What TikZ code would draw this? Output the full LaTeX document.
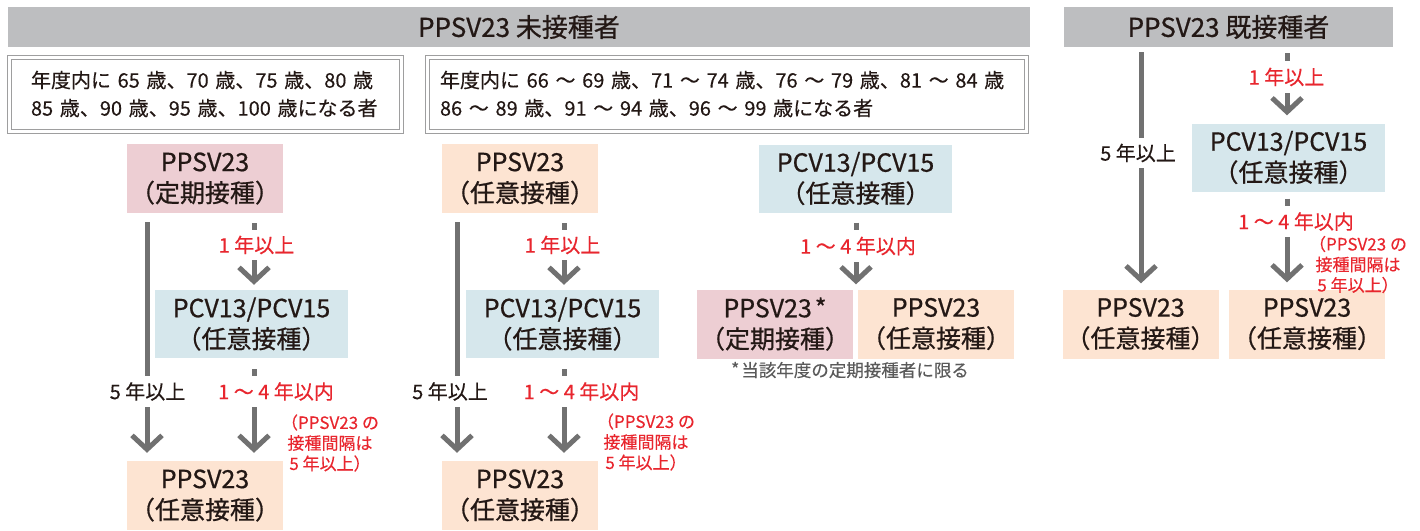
\documentclass[tikz,border=0pt]{standalone}
\usepackage{fontspec}
\setmainfont{Noto Sans CJK JP}
\newfontfamily\boxfont{Noto Sans CJK JP}[FakeBold=0.7]
\newfontfamily\labfont{Noto Sans CJK JP}[FakeBold=0.3]
\usetikzlibrary{arrows.meta,calc}
\definecolor{hdr}{HTML}{BDBEC0}
\definecolor{pinkb}{HTML}{EDCED3}
\definecolor{peach}{HTML}{FDE4D2}
\definecolor{blueb}{HTML}{D6E7EC}
\definecolor{lineg}{HTML}{717171}
\definecolor{redt}{HTML}{E8262E}
\definecolor{txt}{HTML}{231815}
\definecolor{frameg}{HTML}{9E9E9F}
\definecolor{footg}{HTML}{5A5A5A}
\begin{document}
\begin{tikzpicture}[x=1pt,y=-1pt,
  font=\boxfont\fontsize{25}{31}\selectfont, text=txt,
  hdrbox/.style={fill=hdr, minimum height=40pt, inner sep=0pt, font=\boxfont\fontsize{26}{30}\selectfont},
  vbox/.style={minimum width=156pt, minimum height=69pt, inner sep=0pt, align=center},
  pinkbox/.style={vbox, fill=pinkb},
  peachbox/.style={vbox, fill=peach},
  bluebox/.style={vbox, fill=blueb, minimum width=193pt, minimum height=68pt},
  agebox/.style={draw=frameg, line width=1pt, double=white, double distance=3pt,
    minimum height=74pt, inner ysep=0pt, align=left, font=\labfont\fontsize{20}{28}\selectfont},
  conn/.style={draw=lineg, line width=5pt},
  arr/.style={conn, -{Straight Barb[length=14pt, width=30pt]}},
  lab/.style={fill=white, inner xsep=2pt, inner ysep=0pt, font=\labfont\fontsize{20}{24}\selectfont},
  redlab/.style={lab, text=redt},
  graylab/.style={lab, text=txt},
  note/.style={text=redt, align=center, inner sep=0pt, font=\labfont\fontsize{17}{20.5}\selectfont},
]
\useasboundingbox (0,0) rectangle (1420,530);

% headers
\node[hdrbox, minimum width=1022pt] (h1) at (519,27) {PPSV23 未接種者};
\node[hdrbox, minimum width=329pt] (h2) at (1228.5,27) {PPSV23 既接種者};

% age boxes
\node[agebox, text width=348pt, inner xsep=22pt] (g1) at (205,94)
  {\mbox{年度内に 65 歳、70 歳、75 歳、80 歳}\\\mbox{85 歳、90 歳、95 歳、100 歳になる者}};
\node[agebox, text width=573pt, inner xsep=13pt] (g2) at (726.5,94)
  {\mbox{年度内に 66 ～ 69 歳、71 ～ 74 歳、76 ～ 79 歳、81 ～ 84 歳}\\\mbox{86 ～ 89 歳、91 ～ 94 歳、96 ～ 99 歳になる者}};

% column 1
\node[pinkbox] (a1) at (205,178.5) {PPSV23\\（定期接種）};
\node[bluebox] (b1) at (251.5,324) {PCV13/PCV15\\（任意接種）};
\node[peachbox] (c1) at (205,495.5) {PPSV23\\（任意接種）};
\coordinate (x1l) at (147,0);
\coordinate (x1r) at (254,0);
\draw[arr] ($(a1.south -| x1l)+(0,9)$) -- ($(c1.north -| x1l)+(0,-8)$);
\draw[arr] ($(a1.south -| x1r)+(0,10)$) -- ($(b1.north -| x1r)+(0,-5)$);
\draw[arr] ($(b1.south -| x1r)+(0,11)$) -- ($(c1.north -| x1r)+(0,-8)$);

% column 2
\node[peachbox] (a2) at (520,178.5) {PPSV23\\（任意接種）};
\node[bluebox] (b2) at (562.5,324) {PCV13/PCV15\\（任意接種）};
\node[peachbox] (c2) at (520,495.5) {PPSV23\\（任意接種）};
\coordinate (x2l) at (457,0);
\coordinate (x2r) at (564,0);
\draw[arr] ($(a2.south -| x2l)+(0,9)$) -- ($(c2.north -| x2l)+(0,-8)$);
\draw[arr] ($(a2.south -| x2r)+(0,10)$) -- ($(b2.north -| x2r)+(0,-5)$);
\draw[arr] ($(b2.south -| x2r)+(0,11)$) -- ($(c2.north -| x2r)+(0,-8)$);

% column 3
\node[bluebox] (b3) at (855.5,178.5) {PCV13/PCV15\\（任意接種）};
\node[pinkbox] (p3) at (775,324) {PPSV23\kern3pt*\\（定期接種）};
\node[peachbox] (q3) at (936,324) {PPSV23\\（任意接種）};
\coordinate (x3) at (856,0);
\draw[arr] ($(b3.south -| x3)+(0,10)$) -- ($(p3.north -| x3)+(0,-5)$);

% column 4
\node[bluebox] (b4) at (1288.5,157.5) {PCV13/PCV15\\（任意接種）};
\node[peachbox] (c4a) at (1140.5,324) {PPSV23\\（任意接種）};
\node[peachbox] (c4b) at (1307,324) {PPSV23\\（任意接種）};
\coordinate (x4l) at (1141,0);
\coordinate (x4r) at (1287,0);
\draw[arr] ($(h1.south -| x4l)+(0,5)$) -- ($(c4a.north -| x4l)+(0,-6)$);
\draw[arr] ($(h2.south -| x4r)+(0,6)$) -- ($(b4.north -| x4r)+(0,-8)$);
\draw[arr] ($(b4.south -| x4r)+(0,7)$) -- ($(c4b.north -| x4r)+(0,-7)$);

% labels
\node[redlab, minimum height=30pt] (l1a) at (256.5,245) {1 年以上};
\node[graylab, minimum height=31pt] (l1b) at (147.5,391.5) {5 年以上};
\node[redlab, minimum height=31pt] (l1c) at (276,391.5) {1 ～ 4 年以内};
\node[redlab, minimum height=30pt] (l2a) at (562.5,245) {1 年以上};
\node[graylab, minimum height=31pt] (l2b) at (450,391.5) {5 年以上};
\node[redlab, minimum height=31pt] (l2c) at (581.5,391.5) {1 ～ 4 年以内};
\node[redlab, minimum height=32pt] (l3a) at (858,246) {1 ～ 4 年以内};
\node[graylab, minimum height=30pt] (l4b) at (1138,153) {5 年以上};
\node[redlab, minimum height=32pt] (l4a) at (1286.5,77) {1 年以上};
\node[redlab, minimum height=31pt] (l4c) at (1296,221.5) {1 ～ 4 年以内};

% notes
\node[note] (n1) at (330,443) {（PPSV23 の\\接種間隔は\\5 年以上）};
\node[note] (n2) at (646,442) {（PPSV23 の\\接種間隔は\\5 年以上）};
\node[note] (n4) at (1358,264.5) {（PPSV23 の\\接種間隔は\\5 年以上）};
\node[text=footg, inner sep=0pt, font=\labfont\fontsize{17.5}{20}\selectfont] (fn) at (850,370) {\raisebox{1pt}{*}\kern2pt 当該年度の定期接種者に限る};
\end{tikzpicture}
\end{document}
